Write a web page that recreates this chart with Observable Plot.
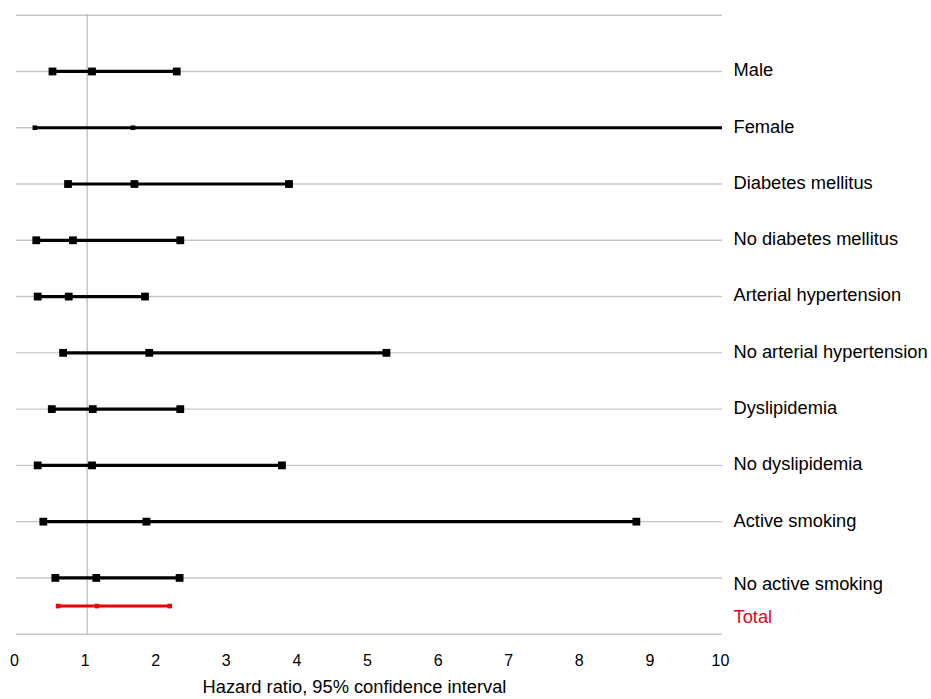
<!DOCTYPE html>
<html>
<head>
<meta charset="utf-8">
<script src="https://cdn.jsdelivr.net/npm/d3@7"></script>
<script src="https://cdn.jsdelivr.net/npm/@observablehq/plot@0.6"></script>
<style>
  html, body { margin: 0; padding: 0; background: #fff; overflow: hidden; }
  #chart svg { display: block; }
</style>
</head>
<body>
<div id="chart"></div>
<script>
const categories = ["Male", "Female", "Diabetes mellitus", "No diabetes mellitus", "Arterial hypertension",
  "No arterial hypertension", "Dyslipidemia", "No dyslipidemia", "Active smoking", "No active smoking", "Total"];
const hazardRatio = [1.07, 1.65, 1.67, 0.80, 0.74, 1.88, 1.08, 1.07, 1.84, 1.13, 1.14];
const lowerCI =     [0.51, 0.26, 0.73, 0.28, 0.30, 0.66, 0.50, 0.30, 0.38, 0.55, 0.59];
const upperCI =     [2.27, 10.0, 3.86, 2.32, 1.82, 5.24, 2.32, 3.76, 8.78, 2.31, 2.17];
const xTicks = [0, 1, 2, 3, 4, 5, 6, 7, 8, 9, 10];
const xLabel = "Hazard ratio, 95% confidence interval";

const nRows = categories.length - 1; // rows with grid lines
const rows = categories.map((c, i) => ({
  name: c,
  hr: hazardRatio[i],
  lo: lowerCI[i],
  hi: upperCI[i],
  pos: c === "Total" ? nRows + 0.5 : i + 1,
  total: c === "Total",
  small: c === "Female" || c === "Total"
}));
const main = rows.filter(d => !d.total);
const total = rows.filter(d => d.total);

const font = "'Liberation Sans', Arial, Helvetica, sans-serif";
const red = "#ee0000";

const points = rows.flatMap(d => [d.lo, d.hr, d.hi].filter(v => v < 10).map(v => ({v, pos: d.pos, total: d.total, small: d.small})));

const chart = Plot.plot({
  width: 931,
  height: 699,
  marginLeft: 16,
  marginRight: 209,
  marginTop: 14.7,
  marginBottom: 65.3,
  style: {fontFamily: font, background: "#fff", overflow: "visible"},
  x: {domain: [0, 10], axis: null},
  y: {domain: [0, nRows + 1], reverse: true, axis: null},
  marks: [
    Plot.ruleY(d3.range(0, nRows + 2), {x1: 0, x2: 10, stroke: "#c6c6c6", strokeWidth: 1.4}),
    Plot.ruleX([1], {y1: 0, y2: nRows + 1, stroke: "#a8a8a8", strokeWidth: 1}),
    Plot.ruleY(main, {y: "pos", x1: "lo", x2: "hi", stroke: "#000", strokeWidth: 3.2}),
    Plot.ruleY(total, {y: "pos", x1: "lo", x2: "hi", stroke: red, strokeWidth: 3}),
    Plot.dot(points.filter(p => !p.small), {x: "v", y: "pos", symbol: "square", r: 4.4, fill: "#000"}),
    Plot.dot(points.filter(p => p.small && !p.total), {x: "v", y: "pos", symbol: "square", r: 2.6, fill: "#000"}),
    Plot.dot(points.filter(p => p.total), {x: "v", y: "pos", symbol: "square", r: 2.6, fill: red}),
    Plot.text(main.filter(d => d.pos < nRows), {x: 10, y: "pos", text: "name", textAnchor: "start", dx: 11, dy: -1, fontSize: 18.3, fill: "#000"}),
    Plot.text(main.filter(d => d.pos === nRows), {x: 10, y: "pos", text: "name", textAnchor: "start", dx: 11, dy: 6, fontSize: 18.3, fill: "#000"}),
    Plot.text(total, {x: 10, y: "pos", text: "name", textAnchor: "start", dx: 11, dy: 11, fontSize: 18.3, fill: "#e3061c"}),
    Plot.text(xTicks, {x: d => d, y: nRows + 1, text: d => String(d), dx: -2, dy: 27, fontSize: 16, fill: "#000"}),
    Plot.text([xLabel], {frameAnchor: "bottom", dx: -15, dy: 58.5, fontSize: 18.3, fill: "#000"})
  ]
});
document.getElementById("chart").appendChild(chart);
</script>
</body>
</html>
